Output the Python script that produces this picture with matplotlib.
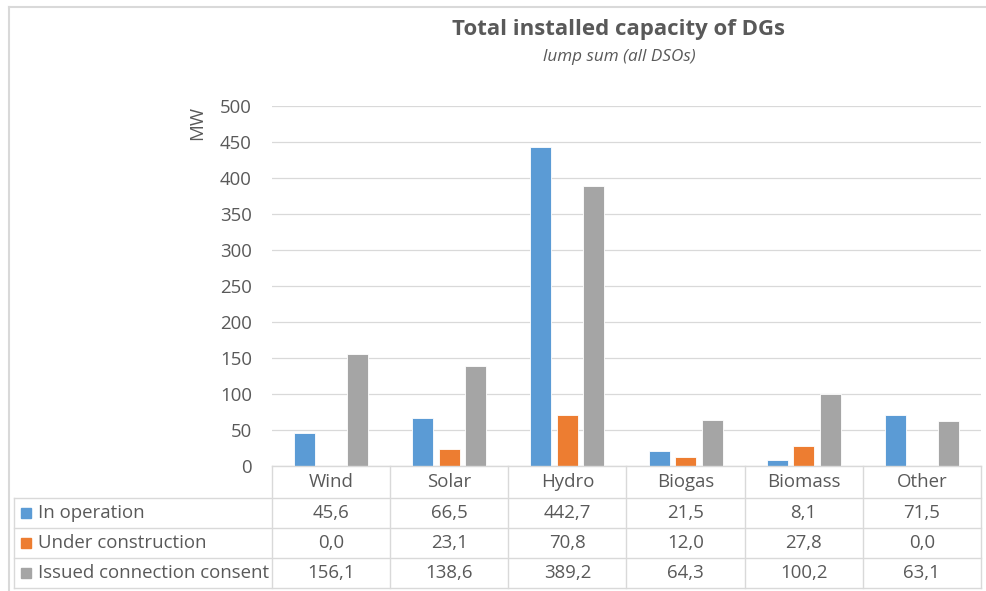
import matplotlib
matplotlib.use("Agg")
import matplotlib.pyplot as plt
from matplotlib.lines import Line2D
from matplotlib.patches import Rectangle
import numpy as np

categories = ["Wind", "Solar", "Hydro", "Biogas", "Biomass", "Other"]
series_names = ["In operation", "Under construction", "Issued connection consent"]
in_operation = [45.6, 66.5, 442.7, 21.5, 8.1, 71.5]
under_construction = [0.0, 23.1, 70.8, 12.0, 27.8, 0.0]
issued_consent = [156.1, 138.6, 389.2, 64.3, 100.2, 63.1]
y_ticks = [0, 50, 100, 150, 200, 250, 300, 350, 400, 450, 500]

colors = ["#5B9BD5", "#ED7D31", "#A5A5A5"]
text_color = "#595959"
grid_color = "#D9D9D9"
font = "Open Sans"
fs = 13.4

W, H = 987, 591
fig = plt.figure(figsize=(W / 100, H / 100), dpi=100)
fig.patch.set_facecolor("white")


def fx(px):
    return px / W


def fy(py):
    return 1 - py / H


# outer chart frame (top and left edges)
fig.lines.append(Line2D([fx(9), 1.0], [fy(7), fy(7)], transform=fig.transFigure,
                        color="#D9D9D9", linewidth=1.5))
fig.lines.append(Line2D([fx(9), fx(9)], [fy(7), 0.0], transform=fig.transFigure,
                        color="#D9D9D9", linewidth=1.5))

plot_l, plot_r, plot_t, plot_b = 272, 981, 106, 466
ax = fig.add_axes([fx(plot_l), fy(plot_b), fx(plot_r - plot_l), (plot_b - plot_t) / H])

x = np.arange(len(categories))
bar_w = 0.177
step = 0.224
for i, (vals, c) in enumerate(zip([in_operation, under_construction, issued_consent], colors)):
    ax.bar(x + (i - 1) * step, vals, width=bar_w, color=c, edgecolor="white",
           linewidth=0.6, zorder=3)

ax.set_xlim(-0.5, len(categories) - 0.5)
ax.set_ylim(0, 500)
ax.set_yticks(y_ticks)
ax.set_yticklabels([str(t) for t in y_ticks], fontsize=fs, color=text_color, family=font)
ax.tick_params(axis="y", length=0, pad=14.5)
ax.set_xticks([])
ax.grid(axis="y", color=grid_color, linewidth=0.9, zorder=0)
for s in ax.spines.values():
    s.set_visible(False)

fig.text(fx(197), fy(123), "MW", rotation=90, ha="center", va="center",
         fontsize=fs, color=text_color, family=font)

# title and subtitle
fig.text(fx(619), fy(30), "Total installed capacity of DGs", ha="center", va="center",
         fontsize=16, fontweight="bold", color=text_color, family=font)
fig.text(fx(619), fy(57), "lump sum (all DSOs)", ha="center", va="center",
         fontsize=12.3, style="italic", color=text_color, family=font)

# data table below the plot, sharing the category scale
tab_t, tab_b = 466, 588
tax = fig.add_axes([fx(plot_l), fy(tab_b), fx(plot_r - plot_l), (tab_b - tab_t) / H], sharex=ax)
tax.set_ylim(tab_b, tab_t)
tax.axis("off")

cat_w_px = (plot_r - plot_l) / len(categories)
left_edge = -0.5 - (plot_l - 14) / cat_w_px
row_lines = [466, 498, 528, 558, 588]
lw = 1.0
# horizontal lines
tax.add_line(Line2D([-0.5, 5.5], [466, 466], color=grid_color, lw=lw, clip_on=False))
for yv in row_lines[1:]:
    tax.add_line(Line2D([left_edge, 5.5], [yv, yv], color=grid_color, lw=lw, clip_on=False))
# vertical lines
for xv in np.arange(len(categories) + 1) - 0.5:
    tax.add_line(Line2D([xv, xv], [466, 588], color=grid_color, lw=lw, clip_on=False))
tax.add_line(Line2D([left_edge, left_edge], [498, 588], color=grid_color, lw=lw, clip_on=False))

for i, cat in enumerate(categories):
    tax.text(i, 482, cat, ha="center", va="center", fontsize=fs, color=text_color,
             family=font, clip_on=False)

row_centers = [513, 543, 573]
key_w = 10 / cat_w_px
for r, (name, vals, c) in enumerate(zip(series_names,
                                        [in_operation, under_construction, issued_consent],
                                        colors)):
    yc = row_centers[r]
    tax.add_patch(Rectangle((left_edge + 7 / cat_w_px, yc - 5), key_w, 10, color=c,
                            clip_on=False))
    tax.text(left_edge + 24 / cat_w_px, yc, name, ha="left", va="center", fontsize=fs,
             color=text_color, family=font, clip_on=False)
    for i, v in enumerate(vals):
        tax.text(i, yc, f"{v:.1f}".replace(".", ","), ha="center", va="center",
                 fontsize=fs, color=text_color, family=font, clip_on=False)

fig.savefig("out.png", dpi=100)
